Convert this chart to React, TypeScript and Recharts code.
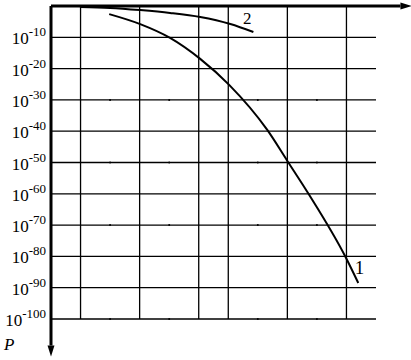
import { LineChart, Line, XAxis, YAxis, CartesianGrid, ReferenceLine, ReferenceDot } from "recharts";

// exponents of P (10^n) on the vertical axis
const yTicks = [-10, -20, -30, -40, -50, -60, -70, -80, -90, -100];
// vertical grid lines and small tick dots, in x units
const gridX = [1, 3, 5, 6, 8, 10];
const dotX = [2, 4, 7, 9];
const dotY = [-30, -50, -70, -100];

const curve1 = [
  { x: 1.97, y: -2.6 },
  { x: 3.02, y: -5.8 },
  { x: 4.03, y: -10.2 },
  { x: 5.05, y: -16.9 },
  { x: 6.03, y: -25.2 },
  { x: 7.32, y: -39.6 },
  { x: 8.0, y: -49.5 },
  { x: 8.71, y: -59.9 },
  { x: 9.97, y: -80.2 },
  { x: 10.4, y: -88.5 },
];

const curve2 = [
  { x: 0.98, y: -0.3 },
  { x: 2.0, y: -0.6 },
  { x: 3.02, y: -1.3 },
  { x: 4.03, y: -2.2 },
  { x: 5.05, y: -3.5 },
  { x: 6.07, y: -5.75 },
  { x: 6.85, y: -8.3 },
];

const serif = "'Liberation Serif', 'Times New Roman', serif";

function PowerTick({ y, payload }: any) {
  return (
    <text x={46} y={y + 7} textAnchor="end" fontFamily={serif} fontSize={17} fill="#000">
      10
      <tspan fontSize={13} dy={-8}>
        {payload.value}
      </tspan>
    </text>
  );
}

function ArrowLine({ x1, y1, x2, y2 }: any) {
  const dx = x2 - x1;
  const dy = y2 - y1;
  const len = Math.hypot(dx, dy) || 1;
  const ux = dx / len;
  const uy = dy / len;
  const bx = x2 - ux * 11;
  const by = y2 - uy * 11;
  const px = -uy * 3.5;
  const py = ux * 3.5;
  return (
    <g>
      <line x1={x1} y1={y1} x2={bx} y2={by} stroke="#000" strokeWidth={3} />
      <polygon points={`${x2},${y2} ${bx + px},${by + py} ${bx - px},${by - py}`} fill="#000" />
    </g>
  );
}

export default function App() {
  return (
    <div style={{ position: "fixed", left: 0, top: 0, background: "#fff" }}>
      <LineChart width={411} height={360} margin={{ top: 6, right: 35, bottom: 41, left: 0 }}>
        <CartesianGrid vertical={false} stroke="#000" strokeWidth={1.3} />
        <XAxis type="number" dataKey="x" domain={[0, 11]} hide allowDataOverflow />
        <YAxis
          type="number"
          domain={[-100, 0]}
          ticks={yTicks}
          width={51}
          axisLine={false}
          tickLine={false}
          tick={<PowerTick />}
          interval={0}
          allowDataOverflow
        />
        {gridX.map((x) => (
          <ReferenceLine key={x} x={x} stroke="#000" strokeWidth={1.3} />
        ))}
        {dotX.map((x) =>
          dotY.map((y) => <ReferenceDot key={`${x}_${y}`} x={x} y={y} r={1} fill="#000" stroke="none" />)
        )}
        <ReferenceLine
          segment={[{ x: 0, y: 0 }, { x: 12.2, y: 0 }]}
          ifOverflow="visible"
          shape={<ArrowLine />}
        />
        <ReferenceLine
          segment={[{ x: 0, y: 0 }, { x: 0, y: -112 }]}
          ifOverflow="visible"
          shape={<ArrowLine />}
        />
        <Line data={curve1} dataKey="y" type="monotone" stroke="#000" strokeWidth={2} dot={false} isAnimationActive={false} />
        <Line data={curve2} dataKey="y" type="monotone" stroke="#000" strokeWidth={2} dot={false} isAnimationActive={false} />
        <ReferenceDot x={6.64} y={-3.8} r={0} label={{ value: "2", position: "center", fontFamily: serif, fontSize: 17, fill: "#000" }} />
        <ReferenceDot x={10.44} y={-83.4} r={0} label={{ value: "1", position: "center", fontFamily: serif, fontSize: 19, fill: "#000" }} />
      </LineChart>
      <div
        style={{
          position: "absolute",
          left: 4,
          top: 336,
          fontFamily: serif,
          fontStyle: "italic",
          fontSize: 17,
          lineHeight: "17px",
        }}
      >
        P
      </div>
    </div>
  );
}
